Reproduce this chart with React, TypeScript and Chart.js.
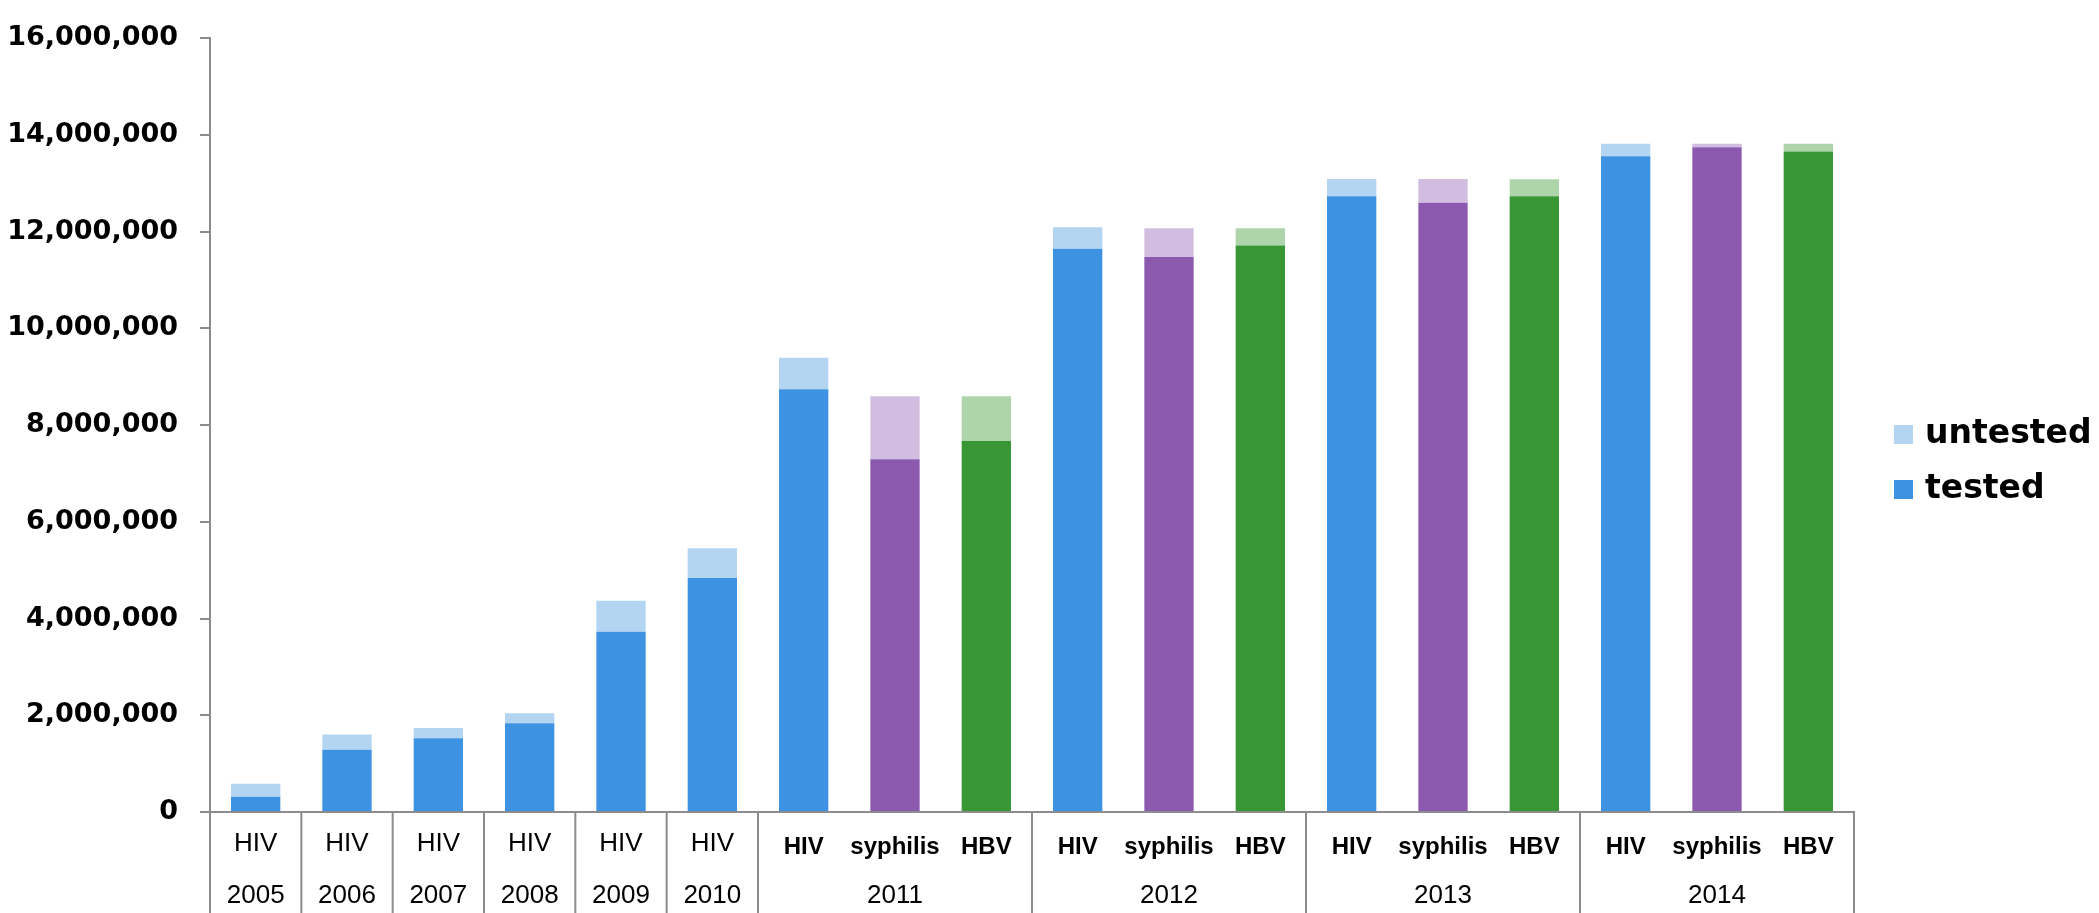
import React, { useEffect, useRef } from 'react';
import { Chart, registerables } from 'chart.js';

Chart.register(...registerables);

// ---- data ----
const diseases = ['HIV', 'HIV', 'HIV', 'HIV', 'HIV', 'HIV', 'HIV', 'syphilis', 'HBV', 'HIV', 'syphilis', 'HBV', 'HIV', 'syphilis', 'HBV', 'HIV', 'syphilis', 'HBV'];
const years = ['2005', '2006', '2007', '2008', '2009', '2010', '2011', '2011', '2011', '2012', '2012', '2012', '2013', '2013', '2013', '2014', '2014', '2014'];
const tested = [313000, 1287000, 1526000, 1833000, 3726000, 4836000, 8739000, 7295000, 7669000, 11647000, 11477000, 11715000, 12730000, 12600000, 12730000, 13560000, 13745000, 13655000];
const untested = [273000, 313000, 211000, 210000, 640000, 620000, 654000, 1301000, 927000, 443000, 593000, 355000, 360000, 490000, 354000, 260000, 75000, 165000];
const seriesNames = ['tested', 'untested'];
const yMax = 16000000;
const yStep = 2000000;

const darkColors: Record<string, string> = { HIV: '#3D92E1', syphilis: '#8B5AAF', HBV: '#389635' };
const lightColors: Record<string, string> = { HIV: '#B3D5F2', syphilis: '#D2BDE0', HBV: '#AED4AB' };

const AXIS_COLOR = '#8C8C8C';

const xLabelsPlugin = {
  id: 'xLabels',
  afterDraw(chart: any) {
    const { ctx, chartArea } = chart;
    const xs = chart.scales.x;
    const n = diseases.length;
    const yTop = chartArea.bottom;
    const yBot = chart.height;
    ctx.save();
    ctx.strokeStyle = AXIS_COLOR;
    ctx.lineWidth = 2;
    for (let i = 0; i <= n; i++) {
      if (i === 0 || i === n || years[i] !== years[i - 1]) {
        const px = i === 0 ? xs.left : i === n ? xs.right : (xs.getPixelForValue(i - 1) + xs.getPixelForValue(i)) / 2;
        ctx.beginPath();
        ctx.moveTo(px, yTop);
        ctx.lineTo(px, yBot);
        ctx.stroke();
      }
    }
    ctx.fillStyle = '#000';
    ctx.textAlign = 'center';
    ctx.textBaseline = 'middle';
    for (let i = 0; i < n; i++) {
      const grouped = years.filter((y) => y === years[i]).length > 1;
      ctx.font = grouped ? 'bold 24px "Liberation Sans", Arial, sans-serif' : '26px "Liberation Sans", Arial, sans-serif';
      ctx.fillText(diseases[i], xs.getPixelForValue(i), grouped ? 847 : 844);
    }
    ctx.font = '26px "Liberation Sans", Arial, sans-serif';
    let start = 0;
    for (let i = 1; i <= n; i++) {
      if (i === n || years[i] !== years[start]) {
        const c = (xs.getPixelForValue(start) + xs.getPixelForValue(i - 1)) / 2;
        ctx.fillText(years[start], c, 896);
        start = i;
      }
    }
    ctx.restore();
  },
};

const legendPlugin = {
  id: 'customLegend',
  afterDraw(chart: any) {
    const { ctx } = chart;
    const items = [...chart.data.datasets].reverse();
    ctx.save();
    ctx.font = 'bold 33px "DejaVu Sans", sans-serif';
    ctx.textAlign = 'left';
    ctx.textBaseline = 'alphabetic';
    items.forEach((ds: any, k: number) => {
      const boxTop = 425 + k * 55;
      const col = Array.isArray(ds.backgroundColor) ? ds.backgroundColor[0] : ds.backgroundColor;
      ctx.fillStyle = col;
      ctx.fillRect(1894, boxTop, 19, 19);
      ctx.fillStyle = '#000';
      ctx.fillText(ds.label, 1925, boxTop + 18);
    });
    ctx.restore();
  },
};

export default function App() {
  const ref = useRef<HTMLCanvasElement>(null);
  useEffect(() => {
    document.body.style.margin = '0';
    document.body.style.overflow = 'hidden';
    const canvas = ref.current!;
    const chart = new Chart(canvas, {
      type: 'bar',
      data: {
        labels: diseases.map((d, i) => d + ' ' + years[i]),
        datasets: [
          {
            label: seriesNames[0],
            data: tested,
            backgroundColor: diseases.map((d) => darkColors[d]),
            stack: 's',
            barPercentage: 0.54,
            categoryPercentage: 1,
          },
          {
            label: seriesNames[1],
            data: untested,
            backgroundColor: diseases.map((d) => lightColors[d]),
            stack: 's',
            barPercentage: 0.54,
            categoryPercentage: 1,
          },
        ],
      },
      options: {
        responsive: false,
        animation: false,
        layout: { padding: { top: 29, left: 6, right: 245, bottom: 0 } },
        plugins: { legend: { display: false }, tooltip: { enabled: false } },
        scales: {
          x: {
            stacked: true,
            afterFit: (s: any) => { s.height = 101; },
            grid: { display: false },
            border: { display: true, color: AXIS_COLOR, width: 2 },
            ticks: { display: false },
          },
          y: {
            stacked: true,
            min: 0,
            max: yMax,
            afterFit: (s: any) => { s.width = 204; },
            grid: { drawOnChartArea: false, tickLength: 10, color: AXIS_COLOR, lineWidth: 2 },
            border: { display: true, color: AXIS_COLOR, width: 2 },
            ticks: {
              stepSize: yStep,
              padding: 22,
              color: '#000',
              font: { family: '"DejaVu Sans", sans-serif', size: 27, weight: 'bold' },
              callback: (v: any) => Number(v).toLocaleString('en-US'),
            },
          },
        },
      },
      plugins: [xLabelsPlugin, legendPlugin],
    });
    return () => chart.destroy();
  }, []);
  return <canvas ref={ref} width={2099} height={913} style={{ display: 'block' }} />;
}
